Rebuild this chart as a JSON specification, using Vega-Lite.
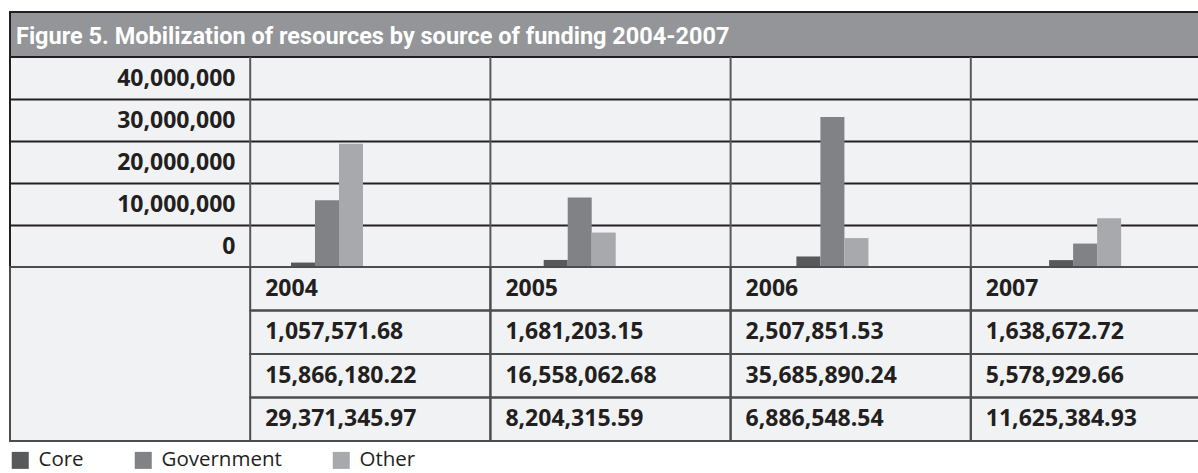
{
  "$schema": "https://vega.github.io/schema/vega-lite/v6.json",
  "background": "white",
  "padding": {"left": 9, "top": 11, "right": 0, "bottom": 0},
  "bounds": "flush",
  "data": {"values": [
    {"year": "2004", "source": "Core", "value": 1057571.68},
    {"year": "2004", "source": "Government", "value": 15866180.22},
    {"year": "2004", "source": "Other", "value": 29371345.97},
    {"year": "2005", "source": "Core", "value": 1681203.15},
    {"year": "2005", "source": "Government", "value": 16558062.68},
    {"year": "2005", "source": "Other", "value": 8204315.59},
    {"year": "2006", "source": "Core", "value": 2507851.53},
    {"year": "2006", "source": "Government", "value": 35685890.24},
    {"year": "2006", "source": "Other", "value": 6886548.54},
    {"year": "2007", "source": "Core", "value": 1638672.72},
    {"year": "2007", "source": "Government", "value": 5578929.66},
    {"year": "2007", "source": "Other", "value": 11625384.93}
  ]},
  "spacing": 0,
  "vconcat": [
    {
      "width": 1189,
      "height": 45,
      "data": {"values": [{}]},
      "mark": {"type": "rect", "fill": "#939598", "stroke": "#231f20", "strokeWidth": 2},
      "encoding": {},
      "title": {
        "text": "Figure 5. Mobilization of resources by source of funding 2004-2007",
        "orient": "top",
        "anchor": "start",
        "frame": "group",
        "offset": -37,
        "dx": 6,
        "color": "white",
        "font": "Roboto",
        "fontSize": 23.5,
        "fontWeight": "bold",
        "zindex": 1
      }
    },
    {
      "width": 1189,
      "height": 210,
      "view": {"fill": "#f1f2f4", "stroke": "#231f20", "strokeWidth": 2},
      "layer": [
        {
          "transform": [{"filter": "datum.source === 'Core'"}],
          "mark": {"type": "rule", "color": "#58595b", "strokeWidth": 2},
          "encoding": {
            "x": {"field": "year", "type": "nominal", "bandPosition": 0, "axis": null,
                  "scale": {"type": "band", "domain": ["", "2004", "2005", "2006", "2007"], "range": [0, 1201], "paddingInner": 0, "paddingOuter": 0}}
          }
        },
        {
          "mark": {"type": "bar"},
          "encoding": {
            "x": {"field": "year", "type": "nominal", "axis": null,
                  "scale": {"type": "band", "domain": ["2004", "2005", "2006", "2007"], "paddingInner": 0.715, "paddingOuter": 0.71, "align": 0.783}},
            "xOffset": {"field": "source", "type": "nominal",
                        "scale": {"domain": ["Core", "Government", "Other"], "paddingInner": 0, "paddingOuter": 0}},
            "y": {"field": "value", "type": "quantitative",
                  "scale": {"domain": [0, 50000000], "nice": false},
                  "axis": {"values": [0, 10000000, 20000000, 30000000, 40000000], "format": ",d", "grid": true,
                           "gridColor": "#231f20", "gridWidth": 2, "gridOpacity": 1, "ticks": false, "tickSize": 0,
                           "domain": false, "labelPadding": -225, "labelAlign": "right", "labelBaseline": "middle",
                           "labelOffset": -21, "labelFont": "Open Sans", "labelFontWeight": "bold", "labelFontSize": 23,
                           "labelColor": "#231f20", "title": null}},
            "color": {"field": "source", "type": "nominal",
                      "scale": {"domain": ["Core", "Government", "Other"], "range": ["#58595b", "#808285", "#a7a9ac"]},
                      "legend": {"title": null}}
          }
        }
      ],
      "resolve": {"scale": {"x": "independent"}}
    },
    {
      "width": 1189,
      "height": 174,
      "view": {"fill": "#f1f2f4", "stroke": "#4d4d4f", "strokeWidth": 2},
      "layer": [
        {
          "mark": {"type": "rect", "filled": false, "color": "#4d4d4f", "strokeWidth": 2, "clip": true},
          "encoding": {
            "x": {"field": "year", "type": "nominal", "axis": null,
                  "scale": {"type": "band", "domain": ["", "2004", "2005", "2006", "2007"], "range": [0, 1201], "paddingInner": 0, "paddingOuter": 0}},
            "y": {"field": "source", "type": "nominal", "axis": null,
                  "scale": {"type": "band", "domain": ["Year", "Core", "Government", "Other"], "paddingInner": 0, "paddingOuter": 0}}
          }
        },
        {
          "transform": [{"filter": "datum.source === 'Core'"}],
          "mark": {"type": "rect", "filled": false, "color": "#4d4d4f", "strokeWidth": 2, "clip": true},
          "encoding": {
            "x": {"field": "year", "type": "nominal", "axis": null,
                  "scale": {"type": "band", "domain": ["", "2004", "2005", "2006", "2007"], "range": [0, 1201], "paddingInner": 0, "paddingOuter": 0}},
            "y": {"datum": "Year", "type": "nominal", "axis": null}
          }
        },
        {
          "mark": {"type": "text", "align": "left", "dx": 15, "font": "Open Sans", "fontWeight": "bold", "fontSize": 23, "color": "#231f20"},
          "encoding": {
            "x": {"field": "year", "type": "nominal", "bandPosition": 0, "axis": null,
                  "scale": {"type": "band", "domain": ["", "2004", "2005", "2006", "2007"], "range": [0, 1201], "paddingInner": 0, "paddingOuter": 0}},
            "y": {"field": "source", "type": "nominal", "axis": null},
            "text": {"field": "value", "type": "quantitative", "format": ",.2f"}
          }
        },
        {
          "transform": [{"filter": "datum.source === 'Core'"}],
          "mark": {"type": "text", "align": "left", "dx": 15, "font": "Open Sans", "fontWeight": "bold", "fontSize": 23, "color": "#231f20"},
          "encoding": {
            "x": {"field": "year", "type": "nominal", "bandPosition": 0, "axis": null,
                  "scale": {"type": "band", "domain": ["", "2004", "2005", "2006", "2007"], "range": [0, 1201], "paddingInner": 0, "paddingOuter": 0}},
            "y": {"datum": "Year", "type": "nominal", "axis": null},
            "text": {"field": "year", "type": "nominal"}
          }
        }
      ]
    }
  ],
  "config": {
    "view": {"stroke": null},
    "concat": {"spacing": 0},
    "legend": {
      "orient": "bottom",
      "direction": "horizontal",
      "symbolType": "square",
      "symbolSize": 289,
      "symbolStrokeWidth": 0,
      "symbolOpacity": 1,
      "labelFont": "Open Sans",
      "labelFontSize": 20.5,
      "labelColor": "#231f20",
      "labelOffset": 8,
      "columnPadding": 49,
      "offset": 8,
      "padding": 0
    }
  }
}
